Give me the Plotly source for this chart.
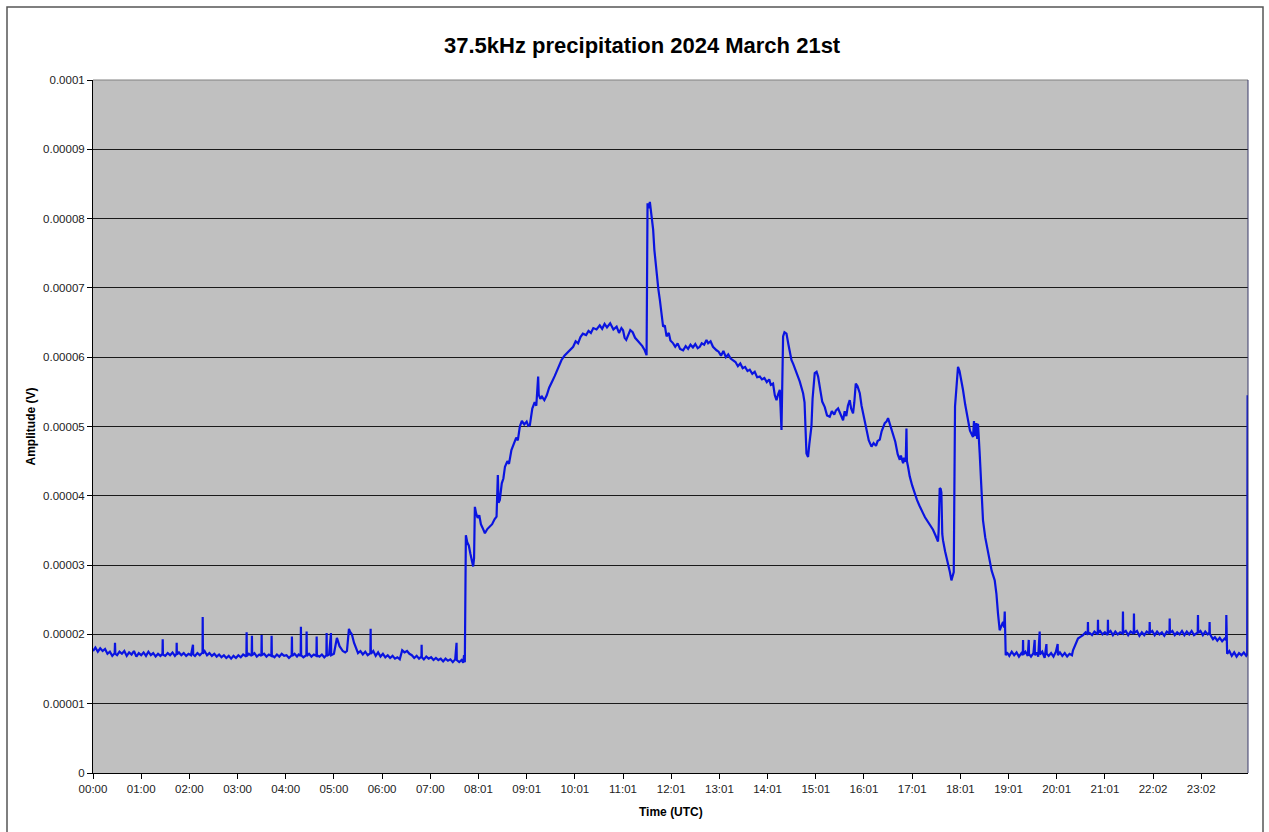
import plotly.graph_objects as go

# ---- data (time in minutes after 00:00 UTC, amplitude in microvolts) ----
night_t = [0, 3, 6, 9, 12, 15, 18, 21, 24, 27, 27.4, 27.8, 30, 33, 36, 39, 42, 45, 48, 51, 54, 57, 60, 63, 66, 69, 72, 75, 78, 81, 84, 86.5, 86.8, 87.1, 90, 93, 96, 99, 102, 104, 104.2, 104.5, 107, 110, 113, 116, 119, 122, 124.5, 124.8, 127, 130, 133, 136.4, 136.6, 136.9, 139, 142, 145, 148, 151, 154, 157, 160, 163, 166, 169, 172, 175, 178, 181, 184, 187, 191, 191.3, 191.6, 194, 197.6, 197.9, 198.2, 201, 204, 207, 209.7, 210, 210.3, 213, 216, 219, 222.1, 222.4, 222.7, 226, 229, 232, 235, 238, 241, 244, 247.4, 247.7, 248, 251, 254, 256, 258.6, 258.9, 259.2, 262, 265.7, 266, 266.3, 269, 272, 275, 278.2, 278.5, 278.8, 282, 285, 288, 290.6, 290.9, 291.2, 294, 296.3, 296.6, 300, 303.7, 307, 311, 314, 316.2, 318.7, 320, 322.4, 325, 328, 330, 333, 336, 339, 342, 345.4, 345.7, 346, 349, 352, 355, 358, 361, 364, 367, 370, 373, 376, 379, 382, 385, 388, 391, 394, 397, 400, 403, 406, 409, 409.2, 409.5, 412, 415, 418, 421, 424, 427, 430, 433, 436, 439, 442, 445, 448, 451, 452.7, 453, 456, 459, 461, 462, 463]
night_v = [17.6, 18.1, 17.5, 18.0, 17.6, 17.9, 17.2, 17.5, 16.9, 17.3, 18.8, 17.2, 17.0, 17.5, 17.2, 17.6, 16.9, 17.4, 17.1, 17.6, 16.8, 17.3, 17.0, 17.4, 16.9, 17.5, 17.0, 17.3, 16.8, 17.2, 16.9, 17.2, 19.3, 17.1, 16.9, 17.3, 17.0, 17.4, 16.9, 17.2, 18.8, 17.1, 17.4, 17.0, 17.3, 16.9, 17.2, 17.0, 18.5, 17.1, 16.9, 17.3, 17.0, 17.4, 22.5, 17.2, 17.6, 17.0, 17.3, 16.9, 17.2, 16.8, 17.1, 16.7, 17.0, 16.6, 16.9, 16.5, 16.9, 16.6, 17.0, 16.7, 17.1, 16.8, 20.3, 16.9, 17.2, 16.9, 19.8, 17.0, 17.3, 16.8, 17.1, 16.9, 19.9, 17.0, 17.2, 16.8, 17.1, 16.9, 19.8, 17.0, 16.7, 17.1, 16.8, 17.2, 16.9, 17.0, 16.6, 17.0, 19.7, 16.9, 17.2, 16.8, 17.1, 16.9, 21.1, 17.0, 16.7, 17.0, 20.4, 16.9, 17.2, 16.8, 17.1, 16.9, 19.7, 17.0, 16.8, 17.1, 16.7, 17.0, 20.2, 16.9, 17.1, 20.2, 17.0, 17.2, 19.5, 18.3, 17.6, 17.4, 17.6, 20.8, 20.4, 20.0, 18.8, 17.8, 17.3, 17.6, 17.1, 17.5, 17.0, 17.3, 20.8, 17.2, 17.6, 16.9, 17.4, 16.8, 17.2, 16.7, 17.0, 16.6, 16.9, 16.5, 16.7, 16.4, 17.7, 17.4, 17.6, 17.2, 17.0, 16.6, 16.9, 16.5, 16.8, 18.5, 16.7, 16.4, 16.8, 16.5, 16.7, 16.3, 16.6, 16.3, 16.5, 16.1, 16.5, 16.2, 16.4, 16.0, 16.4, 18.8, 16.3, 16.0, 16.3, 15.9, 17.0, 16.0]

day_t = [464.3, 466, 468, 470, 472, 473.4, 474.5, 475.5, 477, 479, 481, 483, 485, 488, 491, 494, 497, 500, 502.5, 504.1, 505, 506.6, 509, 511, 513, 516, 518, 521, 524, 527, 529, 531.5, 534, 537, 540, 542, 544, 547, 550, 552, 554.3, 555, 557, 559, 562, 565, 568, 570, 572.6, 575, 578, 581, 583.4, 587, 590, 594, 597.9, 601, 604, 607, 610, 614, 617, 620, 623, 627, 631, 634, 637, 640, 644, 648, 652, 655, 658, 660, 662, 664, 667, 669, 672, 675, 678, 681, 684, 687, 689.3, 690.5, 692, 693.4, 695, 697.5, 699, 701.7, 704, 705.8, 708, 709.9, 712, 714.2, 717, 719, 722.4, 725, 728, 731, 734.8, 738, 741, 744, 747, 750, 753, 755.6, 758, 761, 763.9, 766, 769, 772, 776.4, 779, 782, 785, 788, 791, 794, 797, 800, 803, 806, 809, 812, 815, 817.8, 821, 824, 827, 830.3, 833, 836, 839, 842, 844, 846.8, 849, 851.1, 853, 855.2, 857.3, 858, 859.3, 861, 863.5, 866, 869.7, 872, 876, 880, 884.2, 886, 888.4, 890.4, 892, 894.6, 896, 898.7, 901, 902.9, 906, 908, 911.2, 914, 917.4, 920, 923, 925, 927.8, 930, 932, 934, 936, 938, 940, 942.3, 944, 946.4, 948, 949.8, 952, 954.8, 957, 960, 963.1, 966, 969.4, 972, 975, 977, 979.7, 982, 985.9, 988, 990, 992, 994, 996.3, 999, 1002, 1004.6, 1006, 1008.7, 1010, 1012, 1012.9, 1013.5, 1014.9, 1017, 1020, 1023.2, 1026, 1029, 1031, 1033.5, 1036, 1039, 1042, 1046, 1049, 1052.2, 1053, 1054.3, 1055.5, 1056.4, 1057.5, 1058.4, 1061, 1064.6, 1067, 1068.9, 1070, 1071.8, 1073.4, 1075, 1077.1, 1079, 1081, 1083.3, 1086, 1089.6, 1092, 1095.8, 1097, 1098, 1100, 1101, 1102, 1104.1, 1106, 1108.2, 1111, 1114, 1116.6, 1119, 1122.8, 1124.9, 1126.9, 1129, 1131, 1133.2, 1134.5, 1135.3]
day_v = [34.3, 33.3, 32.8, 31.6, 30.4, 29.8, 31.0, 38.4, 37.5, 36.8, 37.2, 35.9, 35.4, 34.6, 35.2, 35.5, 35.9, 36.6, 37.0, 43.0, 39.0, 39.4, 41.8, 42.5, 44.2, 45.0, 44.6, 46.6, 47.5, 48.4, 48.0, 50.0, 50.8, 50.3, 50.7, 50.1, 50.2, 52.6, 53.5, 53.0, 57.2, 54.6, 54.0, 54.3, 53.8, 54.5, 55.6, 56.0, 56.7, 57.3, 58.2, 59.0, 59.6, 60.2, 60.6, 61.0, 61.5, 62.3, 62.0, 62.9, 63.4, 63.2, 63.8, 63.5, 64.2, 64.0, 64.6, 64.1, 64.8, 64.3, 64.9, 64.0, 64.4, 63.5, 64.2, 63.9, 62.8, 62.5, 63.2, 63.9, 63.6, 62.8, 62.4, 62.0, 61.6, 61.0, 60.3, 82.2, 81.5, 82.4, 80.5, 78.4, 75.5, 72.1, 69.8, 68.3, 66.0, 64.4, 64.6, 63.0, 63.5, 62.4, 62.0, 61.5, 62.0, 61.2, 61.0, 61.6, 61.2, 61.8, 61.4, 61.9, 61.3, 61.5, 62.0, 61.8, 62.5, 62.0, 62.3, 61.5, 61.0, 60.8, 60.2, 60.9, 60.0, 60.4, 59.8, 59.6, 59.3, 58.7, 59.1, 58.4, 58.6, 58.0, 58.2, 57.6, 57.9, 57.1, 57.2, 56.8, 57.0, 56.4, 56.8, 56.0, 56.2, 54.5, 53.8, 54.6, 55.3, 49.5, 55.0, 63.0, 63.6, 63.4, 61.8, 59.6, 59.0, 57.7, 56.5, 54.8, 53.5, 46.1, 45.6, 47.5, 50.0, 54.0, 57.7, 57.9, 57.2, 55.0, 53.6, 52.8, 51.6, 51.4, 52.2, 51.7, 52.3, 52.6, 52.0, 51.3, 50.9, 52.2, 51.5, 53.0, 53.8, 52.6, 51.9, 53.5, 56.2, 55.8, 54.8, 53.0, 51.2, 49.5, 48.0, 47.1, 47.6, 47.2, 47.9, 48.1, 49.3, 50.5, 50.7, 51.2, 50.4, 49.8, 49.0, 47.8, 46.0, 45.2, 45.8, 44.7, 45.5, 44.9, 49.7, 45.0, 44.2, 42.8, 41.5, 40.3, 39.4, 38.6, 38.0, 37.5, 36.9, 36.4, 35.8, 35.1, 34.3, 33.4, 35.0, 41.1, 41.0, 40.5, 34.5, 33.6, 32.0, 30.3, 29.0, 27.8, 28.2, 29.0, 52.9, 56.0, 58.6, 58.0, 56.4, 55.3, 53.2, 50.5, 49.4, 48.5, 50.8, 48.6, 50.5, 48.2, 50.4, 46.1, 41.5, 36.5, 34.0, 32.0, 30.3, 29.2, 27.8, 25.9, 23.0, 20.6, 21.2, 21.8, 21.0, 23.3]

evening_t = [1136.5, 1138, 1141, 1144, 1147, 1150, 1153, 1156, 1157.8, 1158.1, 1158.4, 1161, 1164, 1165.2, 1165.5, 1168, 1171, 1172.6, 1172.9, 1175, 1177, 1178.8, 1179.1, 1182, 1185, 1187.2, 1187.5, 1190, 1193, 1196, 1199, 1201.2, 1201.5, 1204, 1207, 1210, 1213, 1216, 1219, 1220.3, 1223, 1226.5, 1229, 1232.7, 1236, 1238.6, 1238.9, 1239.2, 1241.1, 1244, 1247, 1251.1, 1251.4, 1251.7, 1254, 1257, 1260, 1263.5, 1263.8, 1264.1, 1267, 1270, 1273, 1276, 1279, 1282.2, 1282.5, 1282.8, 1286, 1289, 1292, 1295.9, 1296.2, 1296.5, 1300, 1303, 1306, 1309, 1312, 1315.5, 1315.8, 1316.1, 1319, 1322, 1325, 1328, 1331, 1334, 1337, 1340.4, 1340.7, 1341, 1344, 1347, 1350, 1353, 1356, 1359, 1362, 1365, 1368, 1371, 1375.6, 1375.9, 1376.2, 1379, 1382, 1385, 1388, 1390.1, 1390.4, 1390.7, 1393, 1394.6, 1397, 1400, 1403, 1406, 1409.1, 1410.9, 1411.2, 1411.5, 1412.2, 1415, 1418, 1421, 1424, 1427, 1430, 1433, 1436, 1437.2, 1437.7]
evening_v = [17.0, 17.4, 16.9, 17.5, 17.0, 17.4, 16.8, 17.3, 17.0, 19.2, 17.1, 17.5, 16.9, 19.2, 17.2, 16.8, 17.3, 19.2, 17.0, 17.4, 16.8, 20.4, 17.1, 17.5, 16.6, 18.6, 17.2, 16.9, 17.3, 16.8, 17.5, 18.6, 17.0, 17.4, 16.9, 17.3, 16.8, 17.2, 17.0, 17.7, 18.4, 19.4, 19.6, 19.9, 20.3, 20.0, 21.8, 20.1, 20.2, 19.9, 20.4, 20.0, 22.1, 20.2, 20.5, 20.0, 20.3, 19.9, 22.1, 20.2, 20.5, 19.9, 20.4, 20.0, 20.3, 20.1, 23.3, 20.2, 20.5, 19.9, 20.4, 20.1, 23.0, 20.2, 20.5, 19.8, 20.3, 19.9, 20.4, 20.1, 21.8, 20.2, 20.5, 19.9, 20.4, 20.0, 20.3, 19.8, 20.4, 20.1, 22.3, 20.2, 20.5, 19.9, 20.3, 20.0, 20.5, 19.9, 20.4, 20.0, 20.5, 19.9, 20.3, 22.8, 20.2, 20.5, 19.9, 20.4, 20.0, 20.3, 21.8, 20.1, 19.6, 19.3, 19.6, 19.1, 19.5, 19.0, 19.4, 19.2, 22.8, 18.0, 17.2, 17.6, 16.9, 17.4, 16.8, 17.3, 17.0, 17.4, 16.9, 17.1, 54.5]

x_tick_labels = ["00:00", "01:00", "02:00", "03:00", "04:00", "05:00", "06:00", "07:00",
                 "08:01", "09:01", "10:01", "11:01", "12:01", "13:01", "14:01", "15:01",
                 "16:01", "17:01", "18:01", "19:01", "20:01", "21:01", "22:02", "23:02"]
y_tick_values = [0, 0.00001, 0.00002, 0.00003, 0.00004, 0.00005, 0.00006, 0.00007, 0.00008, 0.00009, 0.0001]
y_tick_labels = ["0", "0.00001", "0.00002", "0.00003", "0.00004", "0.00005", "0.00006",
                 "0.00007", "0.00008", "0.00009", "0.0001"]

t_min = night_t + day_t + evening_t
amp_uV = night_v + day_v + evening_v
x_hours = [t / 60.0 for t in t_min]
y_volts = [v * 1e-6 for v in amp_uV]

FONT = "Liberation Sans, Arial, sans-serif"

fig = go.Figure()
fig.add_trace(go.Scatter(
    x=x_hours, y=y_volts, mode="lines",
    line=dict(color="#0A14E0", width=2.2),
    showlegend=False, hoverinfo="x+y",
))

fig.update_layout(
    width=1269, height=832,
    margin=dict(l=93, r=21, t=80, b=59),
    paper_bgcolor="white",
    plot_bgcolor="#C0C0C0",
    font=dict(family=FONT, size=12, color="black"),
    title=dict(text="<b>37.5kHz precipitation 2024 March 21st</b>",
               x=0.506, xref="container", xanchor="center",
               y=1 - 45 / 832, yref="container", yanchor="middle",
               font=dict(family=FONT, size=22, color="black")),
    showlegend=False,
)

fig.update_xaxes(
    range=[0, 23.97],
    tickmode="array", tickvals=list(range(24)), ticktext=x_tick_labels,
    ticks="outside", ticklen=5, tickcolor="black", tickwidth=1,
    showline=True, linecolor="black", linewidth=1,
    showgrid=False, zeroline=False,
    tickfont=dict(family=FONT, size=11.5, color="#222"),
)
fig.update_yaxes(
    range=[0, 0.0001],
    tickmode="array", tickvals=y_tick_values, ticktext=y_tick_labels,
    ticks="outside", ticklen=5, tickcolor="black", tickwidth=1,
    showline=True, linecolor="black", linewidth=1,
    showgrid=True, gridcolor="#1a1a1a", gridwidth=1,
    zeroline=False,
    tickfont=dict(family=FONT, size=11.5, color="#222"),
)

# axis titles
fig.add_annotation(text="<b>Time (UTC)</b>", xref="paper", yref="paper",
                   x=0.5, y=(773 - 812) / 693, xanchor="center", yanchor="middle",
                   showarrow=False, font=dict(family=FONT, size=12, color="black"))
fig.add_annotation(text="<b>Amplitude (V)</b>", xref="paper", yref="paper",
                   x=(30 - 93) / 1155, y=0.5, xanchor="center", yanchor="middle",
                   textangle=-90, showarrow=False,
                   font=dict(family=FONT, size=12, color="black"))

# plot area top/right borders
fig.add_shape(type="line", xref="paper", yref="paper", x0=0, x1=1, y0=1, y1=1,
              line=dict(color="#808080", width=1))
fig.add_shape(type="line", xref="paper", yref="paper", x0=1, x1=1, y0=0, y1=1,
              line=dict(color="#3a3a6a", width=1))
# chart outer border
fig.add_shape(type="rect", xref="paper", yref="paper",
              x0=(7 - 93) / 1155, x1=(1263 - 93) / 1155,
              y0=(773 - 840) / 693, y1=(773 - 7) / 693,
              line=dict(color="#555555", width=1.5), fillcolor="rgba(0,0,0,0)")

fig.write_html("out.html")
